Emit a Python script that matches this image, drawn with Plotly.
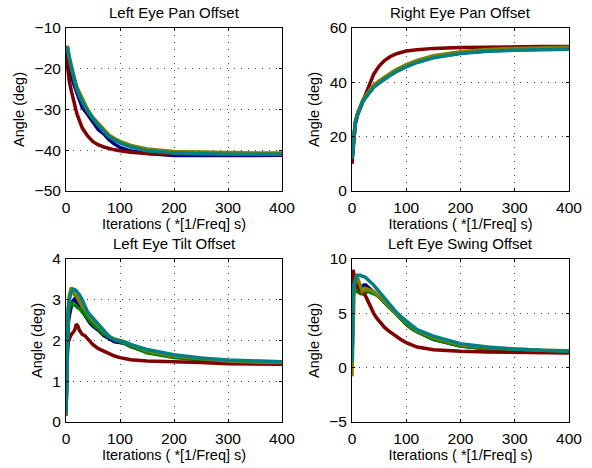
import plotly.graph_objects as go

# ---------------- data ----------------
series_names = ["run 1", "run 2", "run 3", "run 4", "run 5"]
series_colors = ["#000080", "#008000", "#800000", "#808000", "#008080"]

x_pan = [0, 3, 6, 10, 15, 20, 30, 40, 50, 60, 70, 80, 90, 100, 120, 150, 200, 250, 300, 350, 400]
left_pan = [
    [-15.0, -17.5, -20.0, -22.0, -24.0, -26.0, -29.5, -31.2, -33.0, -35.0, -36.0, -37.5, -38.5, -39.3, -40.2, -40.8, -41.3, -41.4, -41.3, -41.3, -41.2],
    [-15.0, -15.5, -18.0, -20.0, -22.5, -24.8, -28.0, -30.5, -32.3, -33.8, -35.3, -36.6, -37.4, -38.1, -39.1, -39.9, -40.5, -40.7, -40.8, -40.9, -40.9],
    [-16.0, -20.0, -23.0, -25.5, -28.5, -31.0, -34.5, -36.5, -37.9, -38.7, -39.2, -39.6, -39.9, -40.1, -40.5, -40.8, -41.0, -41.0, -41.0, -41.0, -41.0],
    [-15.0, -14.5, -17.0, -19.5, -22.0, -24.5, -27.5, -30.0, -32.0, -33.5, -35.0, -36.3, -37.1, -37.8, -38.8, -39.7, -40.3, -40.5, -40.6, -40.7, -40.7],
    [-15.0, -15.0, -17.5, -20.0, -22.5, -25.0, -28.0, -30.4, -32.3, -33.9, -35.4, -36.7, -37.5, -38.2, -39.2, -40.1, -40.7, -40.9, -41.0, -41.0, -41.0],
]

right_pan = [
    [12.0, 20.0, 25.0, 28.0, 31.0, 33.0, 35.8, 38.3, 39.9, 41.4, 42.7, 43.9, 45.0, 45.9, 47.5, 49.2, 50.8, 51.6, 52.0, 52.3, 52.4],
    [12.0, 20.0, 25.0, 28.2, 31.2, 33.2, 36.0, 38.5, 40.1, 41.6, 42.9, 44.1, 45.2, 46.1, 47.7, 49.4, 51.0, 51.8, 52.2, 52.5, 52.6],
    [10.0, 19.0, 24.5, 28.0, 30.5, 32.5, 38.0, 43.0, 46.0, 48.0, 49.4, 50.4, 51.0, 51.5, 52.0, 52.5, 52.8, 53.0, 53.1, 53.2, 53.2],
    [12.0, 20.5, 25.5, 28.6, 31.6, 33.6, 36.4, 38.9, 40.5, 42.0, 43.3, 44.5, 45.6, 46.5, 48.1, 49.8, 51.3, 52.1, 52.5, 52.8, 52.9],
    [12.0, 19.5, 24.8, 28.0, 31.0, 33.0, 35.6, 38.1, 39.7, 41.2, 42.5, 43.7, 44.8, 45.7, 47.3, 49.0, 50.6, 51.4, 51.8, 52.1, 52.2],
]

x_low = [0, 2, 4, 6, 8, 10, 13, 16, 19, 22, 25, 30, 35, 40, 45, 50, 60, 70, 80, 90, 100, 110, 120, 150, 200, 250, 300, 350, 400]
left_tilt = [
    [0.20, 1.80, 2.40, 2.60, 2.75, 2.85, 2.98, 3.02, 2.95, 2.85, 2.80, 2.72, 2.62, 2.50, 2.42, 2.35, 2.25, 2.12, 2.05, 1.97, 1.95, 1.92, 1.85, 1.72, 1.60, 1.54, 1.50, 1.48, 1.47],
    [0.20, 2.00, 2.60, 2.80, 2.90, 2.95, 2.88, 2.86, 2.85, 2.80, 2.78, 2.70, 2.62, 2.55, 2.47, 2.40, 2.28, 2.16, 2.08, 2.02, 1.97, 1.92, 1.86, 1.70, 1.58, 1.52, 1.49, 1.47, 1.46],
    [0.15, 1.70, 1.95, 2.05, 2.10, 2.15, 2.20, 2.25, 2.40, 2.35, 2.25, 2.15, 2.12, 2.05, 1.98, 1.90, 1.80, 1.74, 1.66, 1.62, 1.58, 1.56, 1.53, 1.50, 1.49, 1.46, 1.43, 1.42, 1.42],
    [0.15, 2.20, 2.80, 3.10, 3.25, 3.30, 3.22, 3.12, 3.10, 3.00, 2.95, 2.85, 2.75, 2.65, 2.57, 2.50, 2.35, 2.22, 2.10, 2.03, 2.00, 1.95, 1.88, 1.75, 1.62, 1.55, 1.50, 1.47, 1.46],
    [0.20, 2.10, 2.70, 3.00, 3.15, 3.20, 3.25, 3.25, 3.22, 3.18, 3.12, 3.00, 2.85, 2.70, 2.62, 2.55, 2.40, 2.25, 2.10, 2.02, 2.00, 1.96, 1.90, 1.78, 1.65, 1.57, 1.52, 1.49, 1.48],
]

left_swing = [
    [0.0, 6.5, 7.0, 7.0, 7.1, 7.2, 7.3, 7.4, 7.5, 7.6, 7.6, 7.4, 7.2, 7.0, 6.8, 6.5, 6.0, 5.5, 4.9, 4.4, 4.0, 3.6, 3.3, 2.6, 2.0, 1.75, 1.6, 1.55, 1.5],
    [0.0, 6.8, 7.5, 7.4, 7.2, 7.0, 6.9, 6.8, 6.8, 6.8, 6.9, 7.0, 6.9, 6.8, 6.7, 6.5, 6.0, 5.5, 4.9, 4.4, 4.0, 3.6, 3.3, 2.6, 2.0, 1.75, 1.6, 1.55, 1.5],
    [6.0, 9.0, 8.5, 8.0, 7.7, 7.5, 7.2, 7.0, 6.9, 6.8, 6.6, 6.0, 5.5, 5.0, 4.6, 4.3, 3.7, 3.3, 2.9, 2.6, 2.3, 2.1, 1.9, 1.65, 1.5, 1.45, 1.4, 1.38, 1.35],
    [-0.8, 6.0, 7.5, 8.0, 8.4, 8.3, 7.8, 7.4, 7.0, 7.1, 7.3, 7.2, 7.1, 7.0, 6.8, 6.6, 6.1, 5.6, 5.0, 4.6, 4.2, 3.8, 3.4, 2.8, 2.1, 1.85, 1.7, 1.6, 1.55],
    [0.5, 7.0, 7.8, 8.0, 8.3, 8.5, 8.5, 8.5, 8.4, 8.4, 8.3, 8.1, 7.9, 7.6, 7.3, 7.0, 6.3, 5.8, 5.2, 4.7, 4.3, 3.9, 3.5, 2.9, 2.2, 1.9, 1.7, 1.6, 1.5],
]

titles = ["Left Eye Pan Offset", "Right Eye Pan Offset", "Left Eye Tilt Offset", "Left Eye Swing Offset"]
x_label = "Iterations ( *[1/Freq] s)"
y_label = "Angle (deg)"
x_ticks = [0, 100, 200, 300, 400]
y_ticks = [
    [-50, -40, -30, -20, -10],
    [0, 20, 40, 60],
    [0, 1, 2, 3, 4],
    [-5, 0, 5, 10],
]

panels = [
    (x_pan, left_pan),
    (x_pan, right_pan),
    (x_low, left_tilt),
    (x_low, left_swing),
]

# ---------------- layout ----------------
W, H = 592, 468
boxes = [  # (left, right, top, bottom) in pixels
    (66, 282, 28, 191),
    (352, 569, 28, 191),
    (66, 282, 259, 422),
    (352, 569, 259, 422),
]

FONT = "Liberation Sans, Arial, Helvetica, sans-serif"
fig = go.Figure()
annotations = []
for i, ((xs, ys), box) in enumerate(zip(panels, boxes)):
    n = i + 1
    xa = "x" if n == 1 else f"x{n}"
    ya = "y" if n == 1 else f"y{n}"
    for name, col, vals in zip(series_names, series_colors, ys):
        fig.add_trace(go.Scatter(x=xs, y=vals, mode="lines", name=name,
                                 line=dict(color=col, width=3.5),
                                 xaxis=xa, yaxis=ya, showlegend=False))
    l, r, t, b = box
    common = dict(showline=True, linecolor="black", linewidth=1, mirror="ticks",
                  ticks="inside", ticklen=3, tickcolor="black", automargin=False,
                  showgrid=True, gridcolor="#444", griddash="1px,6px", gridwidth=1,
                  zeroline=False, tickfont=dict(family=FONT, size=15.5, color="black"))
    yt = y_ticks[i]
    fig.update_layout(**{
        ("xaxis" if n == 1 else f"xaxis{n}"): dict(
            domain=[l / W, r / W], anchor=ya, range=[0, 400], tickvals=x_ticks,
            ticklabelstandoff=2,
            title=dict(text=x_label, font=dict(family=FONT, size=14.5, color="black"), standoff=2),
            **common),
        ("yaxis" if n == 1 else f"yaxis{n}"): dict(
            domain=[1 - b / H, 1 - t / H], anchor=xa, range=[yt[0], yt[-1]], tickvals=yt,
            ticklabelstandoff=1,
            title=dict(text=y_label, font=dict(family=FONT, size=14.5, color="black"), standoff=6),
            **common),
    })
    annotations.append(dict(text=titles[i], x=(l + r) / 2 / W, y=1 - (t - 5) / H,
                            xref="paper", yref="paper", xanchor="center", yanchor="bottom",
                            showarrow=False, font=dict(family=FONT, size=15, color="black")))

fig.update_layout(width=W, height=H, margin=dict(l=0, r=0, t=0, b=0),
                  paper_bgcolor="white", plot_bgcolor="white",
                  annotations=annotations, showlegend=False)
fig.write_html("out.html")
